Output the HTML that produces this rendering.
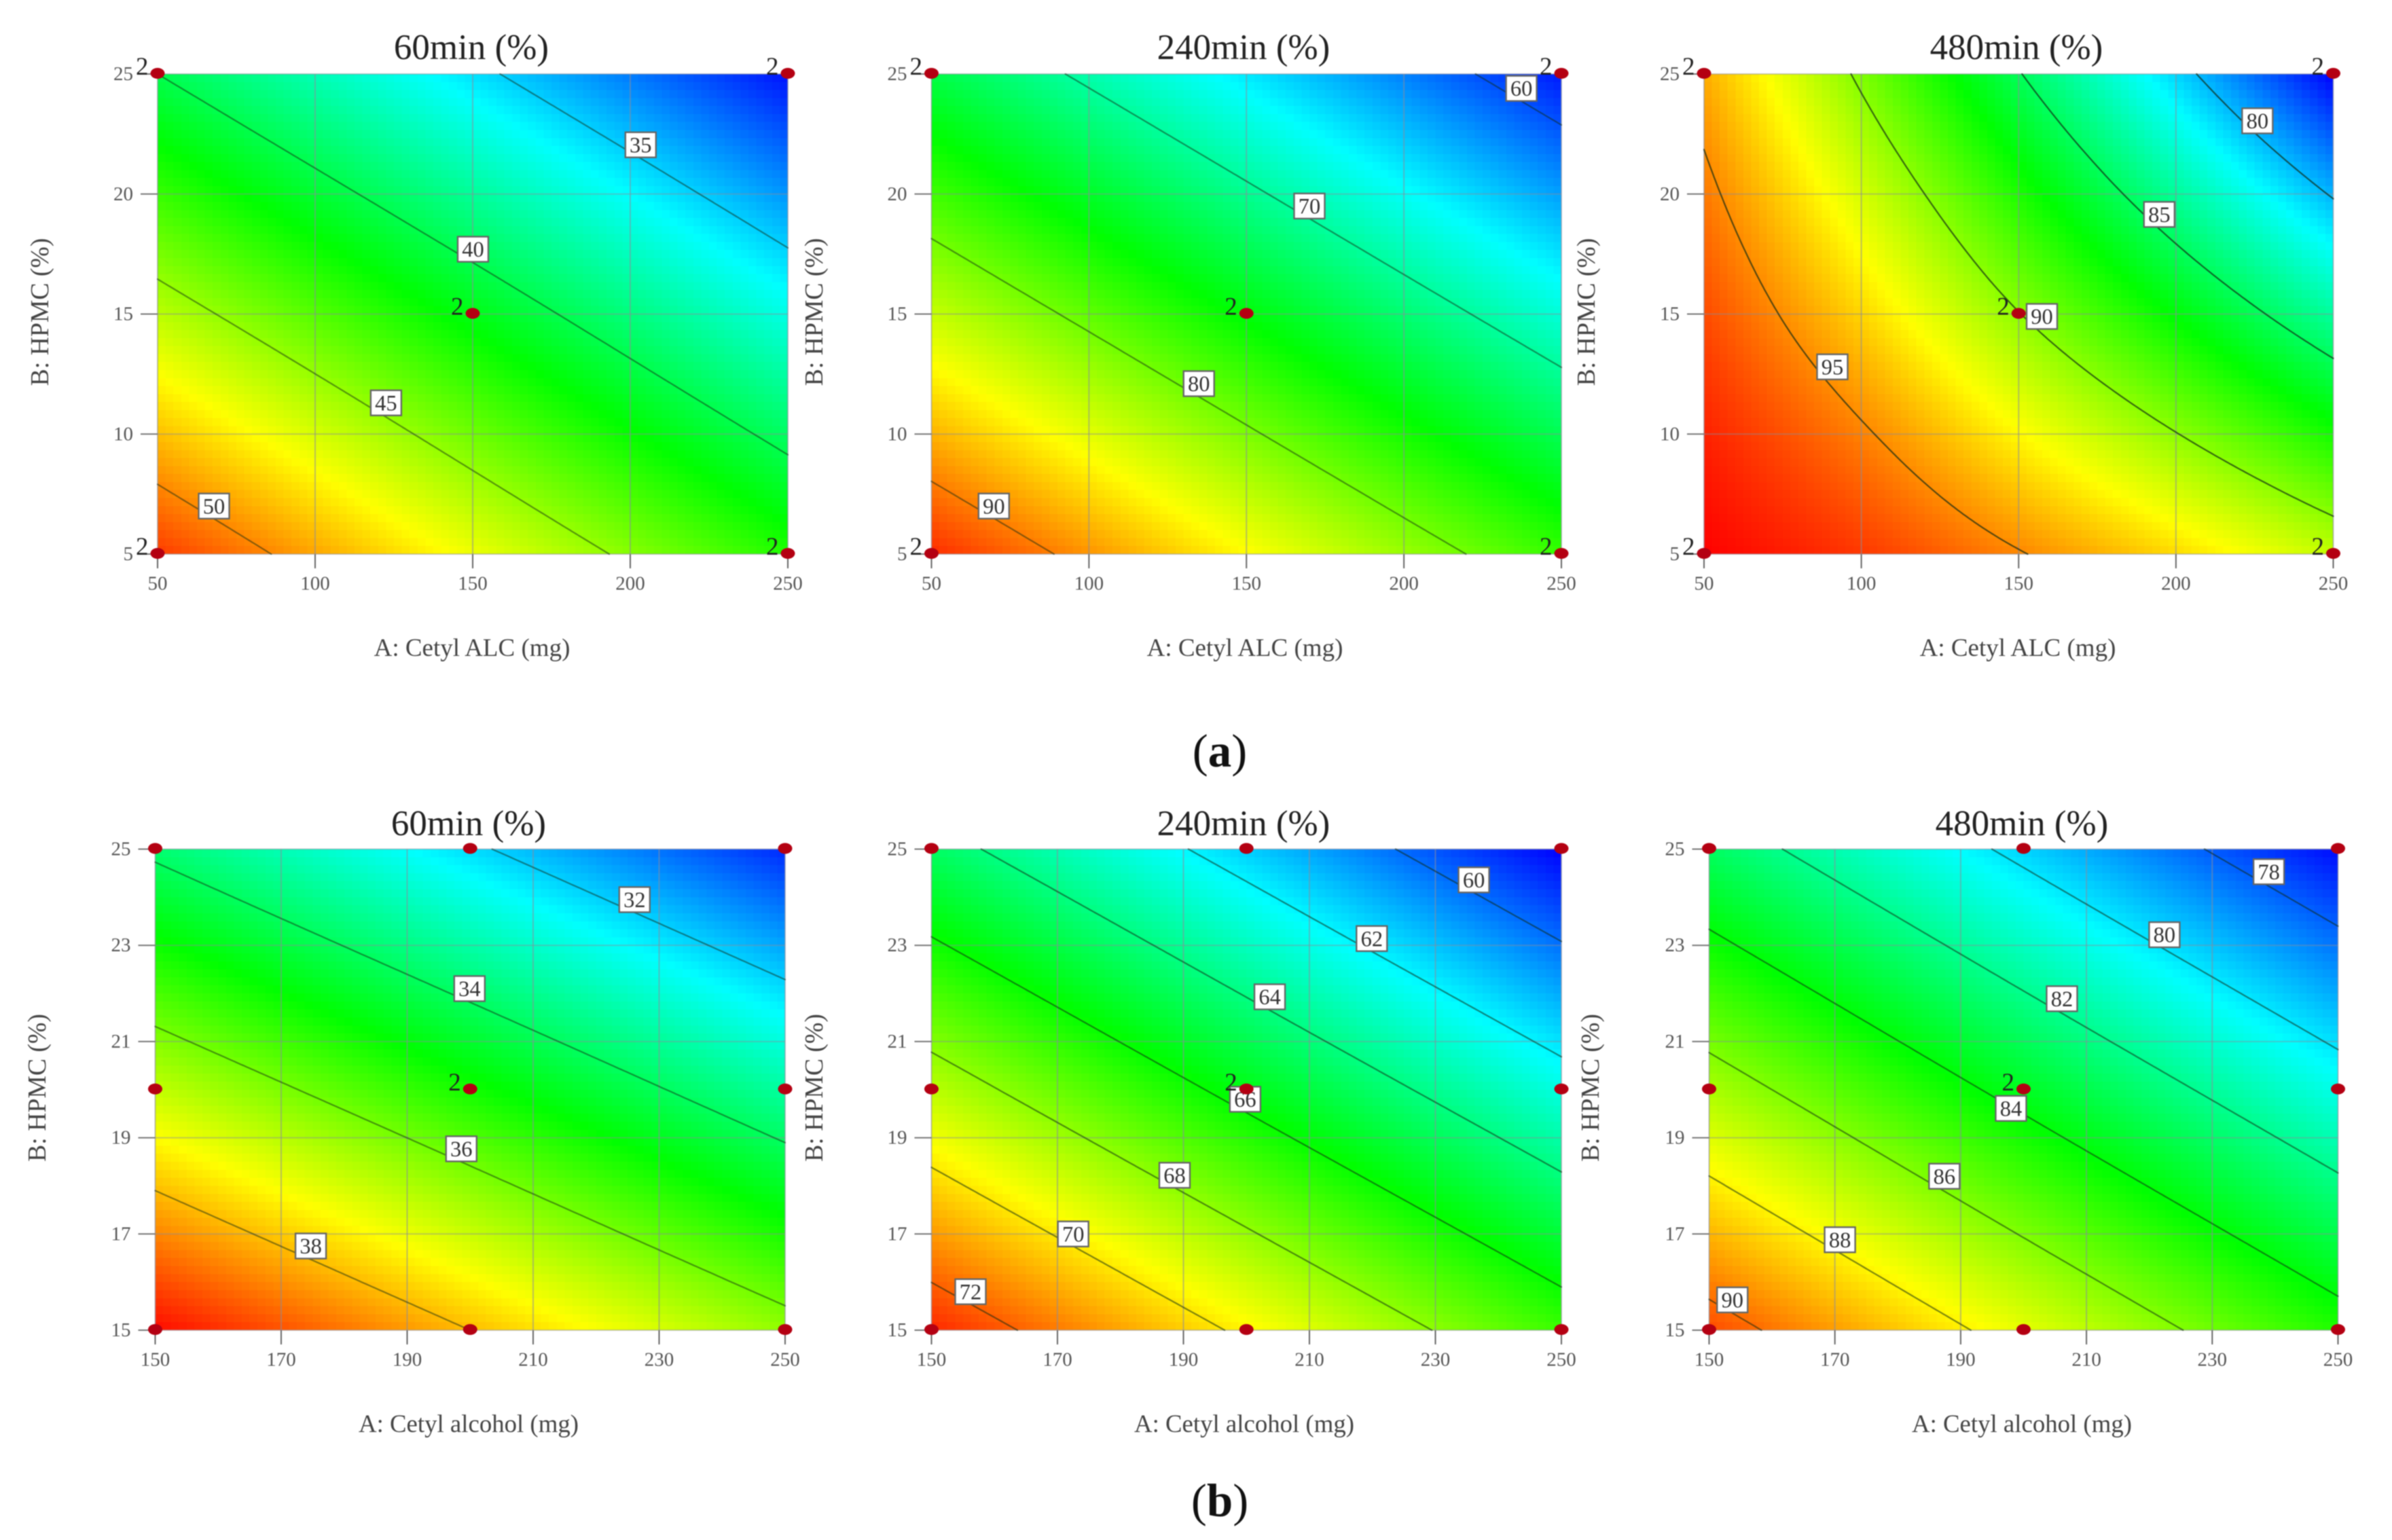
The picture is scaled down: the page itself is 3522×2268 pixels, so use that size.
<!DOCTYPE html>
<html lang="en">
<head>
<meta charset="utf-8">
<title>Contour plots of drug release</title>
<style>
  html, body { margin: 0; padding: 0; background: #fff; width: 3522px; height: 2268px; overflow: hidden; }
  svg { display: block; filter: blur(0.9px); font-family: "Liberation Serif", serif; }
  .title { font-size: 53px; fill: #222; text-anchor: middle; }
  .xt { font-size: 37px; fill: #444; text-anchor: middle; }
  .xb { font-size: 36.8px; fill: #444; text-anchor: middle; }
  .yt { font-size: 37.7px; fill: #444; text-anchor: middle; }
  .cap { font-size: 69px; fill: #111; text-anchor: middle; }
  .cap tspan { font-weight: bold; }
</style>
</head>
<body>
<svg id="fig" xmlns="http://www.w3.org/2000/svg" width="3522" height="2268" viewBox="0 0 3522 2268">
  <rect x="0" y="0" width="3522" height="2268" fill="#fff"></rect>

  <g id="a1"></g>
  <g id="a2"></g>
  <g id="a3"></g>
  <g id="b1"></g>
  <g id="b2"></g>
  <g id="b3"></g>

  <text class="title" x="694" y="87">60min (%)</text>
  <text class="title" x="1831" y="87">240min (%)</text>
  <text class="title" x="2969" y="87">480min (%)</text>
  <text class="title" x="690" y="1230">60min (%)</text>
  <text class="title" x="1831" y="1230">240min (%)</text>
  <text class="title" x="2977" y="1230">480min (%)</text>

  <text class="xt" x="695" y="966">A: Cetyl ALC (mg)</text>
  <text class="xt" x="1833" y="966">A: Cetyl ALC (mg)</text>
  <text class="xt" x="2971" y="966">A: Cetyl ALC (mg)</text>
  <text class="xb" x="690" y="2109">A: Cetyl alcohol (mg)</text>
  <text class="xb" x="1832" y="2109">A: Cetyl alcohol (mg)</text>
  <text class="xb" x="2977" y="2109">A: Cetyl alcohol (mg)</text>

  <text class="yt" transform="translate(71,459.5) rotate(-90)">B: HPMC (%)</text>
  <text class="yt" transform="translate(1211,459.5) rotate(-90)">B: HPMC (%)</text>
  <text class="yt" transform="translate(2348,459.5) rotate(-90)">B: HPMC (%)</text>
  <text class="yt" transform="translate(67,1602) rotate(-90)">B: HPMC (%)</text>
  <text class="yt" transform="translate(1211,1602) rotate(-90)">B: HPMC (%)</text>
  <text class="yt" transform="translate(2354,1602) rotate(-90)">B: HPMC (%)</text>

  <text class="cap" x="1796" y="1129">(<tspan>a</tspan>)</text>
  <text class="cap" x="1796" y="2233">(<tspan>b</tspan>)</text>
</svg>

<script>
// ---------- Axis categories and tick labels ----------
const aTicksX = [50, 100, 150, 200, 250];
const aTicksY = [5, 10, 15, 20, 25];
const bTicksX = [150, 170, 190, 210, 230, 250];
const bTicksY = [15, 17, 19, 21, 23, 25];

// ---------- Response grids (rows run from highest B to lowest B) ----------
const a1Values = [
  [40.0, 35.4, 30.8],
  [45.85, 41.25, 36.6],
  [51.7, 47.0, 42.4]
];
const a2Values = [
  [73.25, 65.6, 57.9],
  [83.1, 75.45, 67.8],
  [93.0, 85.3, 77.7]
];
const a3Values = [
  [94.3, 89.7, 85.1, 80.6, 76.0],
  [95.4, 91.6, 87.6, 83.7, 79.85],
  [96.4, 93.4, 90.05, 86.85, 83.6],
  [97.3, 95.2, 92.6, 90.05, 87.4],
  [98.0, 96.8, 95.1, 93.3, 91.2]
];
const b1Values = [
  [33.84, 32.12, 30.4],
  [36.77, 35.07, 33.35],
  [39.7, 38.0, 36.3]
];
const b2Values = [
  [64.48, 61.44, 58.4],
  [68.65, 65.6, 62.57],
  [72.83, 69.79, 66.75]
];
const b3Values = [
  [82.7, 79.7, 76.75],
  [86.6, 83.6, 80.65],
  [90.5, 87.5, 84.55]
];

// ---------- Colour scale end points (response values) ----------
const a1Range = [30.4, 53.0];
const a2Range = [57.0, 94.6];
const a3Range = [76.0, 98.0];
const b1Range = [30.0, 39.8];
const b2Range = [58.4, 73.4];
const b3Range = [76.6, 91.6];

// ---------- Contour levels ----------
const a1Levels = [35, 40, 45, 50];
const a2Levels = [60, 70, 80, 90];
const a3Levels = [80, 85, 90, 95];
const b1Levels = [32, 34, 36, 38];
const b2Levels = [60, 62, 64, 66, 68, 70, 72];
const b3Levels = [78, 80, 82, 84, 86, 88, 90];

// ---------- Contour label anchors, in data units ----------
const a1LabelA = [203.3, 150.1, 122.5, 67.9];
const a1LabelB = [22.05, 17.7, 11.3, 7.0];
const a2LabelA = [237.3, 170, 134.9, 69.8];
const a2LabelB = [24.4, 19.5, 12.1, 7.0];
const a3LabelA = [225.9, 194.7, 157.4, 90.8];
const a3LabelB = [23.05, 19.15, 14.9, 12.8];
const b1LabelA = [226.1, 199.9, 198.6, 174.7];
const b1LabelB = [23.95, 22.1, 18.77, 16.75];
const b2LabelA = [236.1, 219.9, 203.7, 199.8, 188.6, 172.5, 156.2];
const b2LabelB = [24.36, 23.14, 21.93, 19.8, 18.22, 17.0, 15.8];
const b3LabelA = [239, 222.4, 206.1, 198, 187.4, 170.8, 153.7];
const b3LabelB = [24.53, 23.22, 21.89, 19.61, 18.2, 16.88, 15.63];

// ---------- Design points ----------
const aPointsA = [50, 250, 150, 50, 250];
const aPointsB = [25, 25, 15, 5, 5];
const aPointsReps = [2, 2, 2, 2, 2];
const bPointsA = [150, 200, 250, 150, 200, 250, 150, 200, 250];
const bPointsB = [25, 25, 25, 20, 20, 20, 15, 15, 15];
const bPointsReps = [1, 1, 1, 1, 2, 1, 1, 1, 1];

// ---------- Panel frames (layout only) ----------
const frames = {
  a1: { l: 232, r: 1160, t: 109, b: 816 },
  a2: { l: 1371.5, r: 2299, t: 109, b: 816 },
  a3: { l: 2509, r: 3435.5, t: 109, b: 816 },
  b1: { l: 228.5, r: 1156, t: 1250.5, b: 1959 },
  b2: { l: 1371.5, r: 2299, t: 1250.5, b: 1959 },
  b3: { l: 2516.5, r: 3442.5, t: 1250.5, b: 1959 }
};

const panels = [
  { id: 'a1', z: a1Values, range: a1Range, levels: a1Levels, la: a1LabelA, lb: a1LabelB, tx: aTicksX, ty: aTicksY, pa: aPointsA, pb: aPointsB, pr: aPointsReps, ink: 0.5 },
  { id: 'a2', z: a2Values, range: a2Range, levels: a2Levels, la: a2LabelA, lb: a2LabelB, tx: aTicksX, ty: aTicksY, pa: aPointsA, pb: aPointsB, pr: aPointsReps, ink: 0.5 },
  { id: 'a3', z: a3Values, range: a3Range, levels: a3Levels, la: a3LabelA, lb: a3LabelB, tx: aTicksX, ty: aTicksY, pa: aPointsA, pb: aPointsB, pr: aPointsReps, ink: 0.7 },
  { id: 'b1', z: b1Values, range: b1Range, levels: b1Levels, la: b1LabelA, lb: b1LabelB, tx: bTicksX, ty: bTicksY, pa: bPointsA, pb: bPointsB, pr: bPointsReps, ink: 0.5 },
  { id: 'b2', z: b2Values, range: b2Range, levels: b2Levels, la: b2LabelA, lb: b2LabelB, tx: bTicksX, ty: bTicksY, pa: bPointsA, pb: bPointsB, pr: bPointsReps, ink: 0.55 },
  { id: 'b3', z: b3Values, range: b3Range, levels: b3Levels, la: b3LabelA, lb: b3LabelB, tx: bTicksX, ty: bTicksY, pa: bPointsA, pb: bPointsB, pr: bPointsReps, ink: 0.55 }
];

const NS = 'http://www.w3.org/2000/svg';

function make(tag, parent, props) {
  const e = document.createElementNS(NS, tag);
  for (const k in props) e.setAttribute(k, props[k]);
  parent.appendChild(e);
  return e;
}

// Catmull-Rom through evenly spaced nodes, u in [0, n-1]
function spline(v, u) {
  const n = v.length;
  let i = Math.floor(u);
  if (i >= n - 1) i = n - 2;
  if (i < 0) i = 0;
  const f = u - i;
  const p1 = v[i], p2 = v[i + 1];
  const p0 = i > 0 ? v[i - 1] : 2 * p1 - p2;
  const p3 = i + 2 < n ? v[i + 2] : 2 * p2 - p1;
  return 0.5 * (2 * p1 + (p2 - p0) * f + (2 * p0 - 5 * p1 + 4 * p2 - p3) * f * f + (3 * p1 - p0 - 3 * p2 + p3) * f * f * f);
}

function surface(grid, fx, fy) {
  const col = fx * (grid[0].length - 1);
  const row = fy * (grid.length - 1);
  const across = [];
  for (let r = 0; r < grid.length; r++) across.push(spline(grid[r], col));
  return spline(across, row);
}

function rainbow(t) {
  t = Math.max(0, Math.min(1, t));
  let r, g, b;
  if (t < 0.25) { r = 0; g = 4 * t * 255; b = 255; }
  else if (t < 0.5) { r = 0; g = 255; b = 255 * (1 - (t - 0.25) * 4); }
  else if (t < 0.75) { r = (t - 0.5) * 4 * 255; g = 255; b = 0; }
  else { r = 255; g = 255 * (1 - (t - 0.75) * 4); b = 0; }
  return 'rgb(' + Math.round(r) + ',' + Math.round(g) + ',' + Math.round(b) + ')';
}

function contourPath(grid, level, sx, sy, nx, ny) {
  const vals = [];
  for (let j = 0; j <= ny; j++) {
    const row = [];
    for (let i = 0; i <= nx; i++) row.push(surface(grid, i / nx, j / ny));
    vals.push(row);
  }
  let d = '';
  function cross(a, b) { return (level - a) / (b - a); }
  for (let j = 0; j < ny; j++) {
    for (let i = 0; i < nx; i++) {
      const a = vals[j][i], b = vals[j][i + 1], c = vals[j + 1][i + 1], e = vals[j + 1][i];
      const pts = [];
      if ((a < level) !== (b < level)) pts.push([(i + cross(a, b)) / nx, j / ny]);
      if ((b < level) !== (c < level)) pts.push([(i + 1) / nx, (j + cross(b, c)) / ny]);
      if ((e < level) !== (c < level)) pts.push([(i + cross(e, c)) / nx, (j + 1) / ny]);
      if ((a < level) !== (e < level)) pts.push([i / nx, (j + cross(a, e)) / ny]);
      if (pts.length >= 2) {
        d += 'M' + sx(pts[0][0]).toFixed(1) + ' ' + sy(pts[0][1]).toFixed(1) + 'L' + sx(pts[1][0]).toFixed(1) + ' ' + sy(pts[1][1]).toFixed(1);
      }
    }
  }
  return d;
}

function drawPanel(p) {
  const g = document.getElementById(p.id);
  const f = frames[p.id];
  const w = f.r - f.l, h = f.b - f.t;
  const minA = p.tx[0], maxA = p.tx[p.tx.length - 1];
  const minB = p.ty[0], maxB = p.ty[p.ty.length - 1];
  const xScale = a => f.l + (a - minA) / (maxA - minA) * w;
  const yScale = b => f.b - (b - minB) / (maxB - minB) * h;
  const fracX = u => f.l + u * w;
  const fracY = v => f.t + v * h;

  // heatmap
  const heat = make('g', g, {});
  
  
  const nx = 80, ny = 60;
  const cw = w / nx, ch = h / ny;
  for (let j = 0; j < ny; j++) {
    for (let i = 0; i < nx; i++) {
      const z = surface(p.z, (i + 0.5) / nx, (j + 0.5) / ny);
      const t = (z - p.range[0]) / (p.range[1] - p.range[0]);
      const cell = make('rect', heat, {
        x: (f.l + i * cw).toFixed(2),
        y: (f.t + j * ch).toFixed(2),
        width: (i === nx - 1 ? cw : cw + 1).toFixed(2),
        height: (j === ny - 1 ? ch : ch + 1).toFixed(2),
        fill: rainbow(t),
        'shape-rendering': 'crispEdges'
      });
      
      
    }
  }

  // grid lines and ticks
  p.tx.forEach(v => {
    const x = xScale(v);
    const line = make('line', g, { x1: x, x2: x, y1: f.t, y2: f.b, stroke: '#8a8a9a', 'stroke-width': 2, 'stroke-opacity': 0.55 });
    
    
    const tick = make('line', g, { x1: x, x2: x, y1: f.b, y2: f.b + 21, stroke: '#666', 'stroke-width': 2 });
    
    
    const label = make('text', g, { x: x, y: f.b + 52.5, 'font-size': 29, fill: '#555', 'text-anchor': 'middle' });
    label.textContent = v;
    
    
  });
  p.ty.forEach(v => {
    const y = yScale(v);
    const line = make('line', g, { x1: f.l, x2: f.r, y1: y, y2: y, stroke: '#8a8a9a', 'stroke-width': 2, 'stroke-opacity': 0.45 });
    
    
    const tick = make('line', g, { x1: f.l - 25, x2: f.l, y1: y, y2: y, stroke: '#777', 'stroke-width': 2 });
    
    
    const label = make('text', g, { x: f.l - 36, y: y + 9, 'font-size': 29, fill: '#555', 'text-anchor': 'end' });
    label.textContent = v;
    
    
  });

  // contours
  p.levels.forEach(level => {
    const path = make('path', g, {
      d: contourPath(p.z, level, fracX, fracY, 160, 120),
      fill: 'none', stroke: '#0f2a12', 'stroke-width': 2.2, 'stroke-linecap': 'round', opacity: p.ink
    });
    
    
  });

  // contour labels
  p.levels.forEach((level, i) => {
    const cx = xScale(p.la[i]), cy = yScale(p.lb[i]);
    const box = make('rect', g, { x: cx - 22.5, y: cy - 18.5, width: 45, height: 37, fill: '#fff', stroke: '#666', 'stroke-width': 2.4 });
    
    
    const txt = make('text', g, { x: cx, y: cy + 11, 'font-size': 32.5, fill: '#333', 'text-anchor': 'middle' });
    txt.textContent = level;
    
    
  });

  // design points
  p.pa.forEach((a, i) => {
    const x = xScale(a), y = yScale(p.pb[i]) - 1;
    const dot = make('ellipse', g, { cx: x, cy: y, rx: 10.5, ry: 8, fill: '#b40012' });
    
    
    if (p.pr[i] > 1) {
      const rep = make('text', g, { x: x - 13.5, y: y + 2, 'font-size': 37, fill: '#222', 'text-anchor': 'end' });
      rep.textContent = p.pr[i];
      
      
    }
  });
}

panels.forEach(drawPanel);
</script>
</body>
</html>
